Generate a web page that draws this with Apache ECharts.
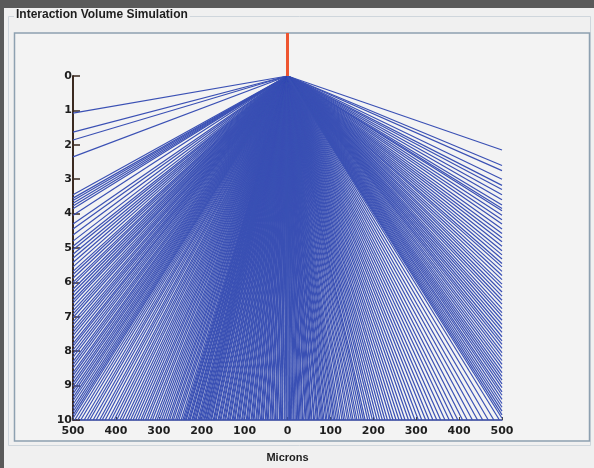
<!DOCTYPE html>
<html>
<head>
<meta charset="utf-8">
<script src="https://cdn.jsdelivr.net/npm/echarts@6/dist/echarts.min.js"></script>
<style>
html,body{margin:0;padding:0;background:#f0f0f0;}
#chart{width:594px;height:468px;}
</style>
</head>
<body>
<div id="chart"></div>
<script>
// Tick labels
var xTicks = [-500, -400, -300, -200, -100, 0, 100, 200, 300, 400, 500];
var yTicks = [0, 1, 2, 3, 4, 5, 6, 7, 8, 9, 10];

// Beam (red) from top of panel down to the entry point
var beamTop = -1.25;

// Trajectory end depths on the left edge (x = -500 microns)
var leftEnds = [1.08, 1.63, 1.86, 2.35, 3.45, 3.55, 3.62, 3.7, 3.78, 3.86, 4.05, 4.3, 4.45, 4.62,
  4.8, 4.95, 5.05, 5.18, 5.3, 5.42, 5.55, 5.68, 5.77, 5.88, 6.0, 6.08, 6.2, 6.3, 6.41, 6.52, 6.6,
  6.72, 6.83, 6.92, 7.02, 7.15, 7.24, 7.36, 7.45, 7.55, 7.66, 7.78, 7.86, 7.97, 8.08, 8.18, 8.3,
  8.4, 8.5, 8.62, 8.71, 8.82, 8.93, 9.02, 9.14, 9.24, 9.35, 9.44, 9.55, 9.66, 9.76, 9.86, 9.95];

// Trajectory end depths on the right edge (x = +500 microns)
var rightEnds = [2.15, 2.6, 2.75, 3.0, 3.18, 3.3, 3.45, 3.6, 3.75, 3.85, 3.92, 4.05, 4.18, 4.3, 4.45,
  4.58, 4.7, 4.82, 4.95, 5.08, 5.2, 5.32, 5.45, 5.55, 5.68, 5.8, 5.92, 6.05, 6.15, 6.28, 6.4, 6.52,
  6.63, 6.76, 6.88, 6.98, 7.1, 7.22, 7.34, 7.45, 7.58, 7.7, 7.8, 7.92, 8.04, 8.15, 8.27, 8.38, 8.5,
  8.62, 8.73, 8.84, 8.95, 9.06, 9.18, 9.28, 9.4, 9.52, 9.63, 9.74, 9.85, 9.95];

// Trajectory end positions on the bottom edge (depth = 10), microns
var bottomEnds = [-496, -489, -482, -474, -467, -461, -453, -446, -438, -432, -425, -417, -411, -404,
  -398, -391, -385, -378, -372, -366, -360, -354, -348, -342, -337, -331, -326, -320, -315, -309,
  -304, -299, -294, -289, -284, -279, -275, -270, -266, -261, -257, -253,
  -248, -244, -241, -238, -236, -232, -229, -227, -223, -221, -218, -215, -213, -209, -206, -204,
  -201, -198, -195, -193, -190, -188, -185, -182, -179, -177, -173, -171, -168, -166, -162, -160,
  -157, -155, -151, -149, -146, -144, -140, -138, -135, -133, -129, -127, -124, -122, -118, -116,
  -113, -111, -107, -105, -102, -100, -96, -94, -91, -89, -85, -83, -80, -78, -74, -72, -69, -67,
  -63, -61, -58, -56, -52, -50, -47, -45, -41, -39, -36, -34, -30, -28, -25, -23, -19, -17, -14,
  -12, -8, -6, -3, -1, 2, 5, 7, 10, 13, 15, 18, 21, 24, 26, 29, 32, 35, 37, 41, 43, 46, 49, 52,
  55, 57, 61, 63, 67, 70, 72, 76, 79, 82, 85, 89, 92, 96, 99, 103, 107, 110, 114, 118, 122, 127,
  131, 135, 140, 144, 149,
  153, 158, 162, 167, 172, 177, 181, 187, 192, 198, 203, 209, 215, 221, 227, 233, 240, 246, 253,
  260, 267, 274, 282, 289, 297, 305, 313, 322, 330, 339, 348, 357, 367, 377, 387, 397, 408, 419,
  431, 443, 455, 468, 481, 494];

var trajectories = [];
leftEnds.forEach(function (y) { trajectories.push({ coords: [[0, 0], [-500, y]] }); });
rightEnds.forEach(function (y) { trajectories.push({ coords: [[0, 0], [500, y]] }); });
bottomEnds.forEach(function (x) { trajectories.push({ coords: [[0, 0], [x, 10]] }); });

var chart = echarts.init(document.getElementById('chart'), null, { renderer: 'canvas' });
chart.setOption({
  animation: false,
  backgroundColor: '#f0f0f0',
  graphic: [
    { type: 'rect', z: -10, shape: { x: 0, y: 0, width: 594, height: 8 }, style: { fill: '#5a5a5a' } },
    { type: 'rect', z: -10, shape: { x: 0, y: 0, width: 4, height: 468 }, style: { fill: '#5a5a5a' } },
    { type: 'rect', z: -9, shape: { x: 8.5, y: 16.5, width: 582, height: 429 }, style: { fill: 'none', stroke: '#cfd6dc', lineWidth: 1 } },
    { type: 'rect', z: -8, shape: { x: 14.5, y: 33, width: 575, height: 408 }, style: { fill: '#f3f3f3', stroke: '#8da0b0', lineWidth: 1.5 } }
  ],
  title: {
    text: 'Interaction Volume Simulation',
    left: 14, top: 9,
    padding: [0, 2],
    backgroundColor: '#f0f0f0',
    textStyle: { fontFamily: 'Liberation Sans', fontWeight: 'bold', fontSize: 12, color: '#1e1e1e' }
  },
  grid: { left: 73, right: 92, top: 76, bottom: 48 },
  xAxis: {
    type: 'value', min: -500, max: 500, interval: 100,
    name: 'Microns', nameLocation: 'middle', nameGap: 32,
    nameTextStyle: { fontFamily: 'Liberation Sans', fontWeight: 'bold', fontSize: 11, color: '#1e1e1e' },
    axisLine: { show: true, onZero: false, lineStyle: { color: '#2d3f9a', width: 1.5 } },
    axisTick: { show: true, inside: true, length: 3, lineStyle: { color: '#444' } },
    axisLabel: { margin: 6, fontFamily: 'DejaVu Sans', fontWeight: 'bold', fontSize: 11, color: '#1e1e1e',
      formatter: function (v) { return String(Math.abs(v)); } },
    splitLine: { show: false }
  },
  yAxis: {
    type: 'value', min: 0, max: 10, interval: 1, inverse: true,
    axisLine: { show: true, onZero: false, lineStyle: { color: '#3b2a20', width: 2 } },
    axisTick: { show: true, inside: true, length: 7, lineStyle: { color: '#3b2a20', width: 1.5 } },
    axisLabel: { margin: 1, fontFamily: 'DejaVu Sans', fontWeight: 'bold', fontSize: 11, color: '#1e1e1e' },
    splitLine: { show: false }
  },
  series: [
    {
      type: 'lines', coordinateSystem: 'cartesian2d', z: 2,
      lineStyle: { color: '#3a50b4', width: 1.2, opacity: 1 },
      data: trajectories,
      silent: true
    },
    {
      type: 'lines', coordinateSystem: 'cartesian2d', z: 3, clip: false,
      lineStyle: { color: '#ee5530', width: 3, opacity: 1 },
      data: [{ coords: [[0, beamTop], [0, 0]] }],
      silent: true
    }
  ]
});
</script>
</body>
</html>
